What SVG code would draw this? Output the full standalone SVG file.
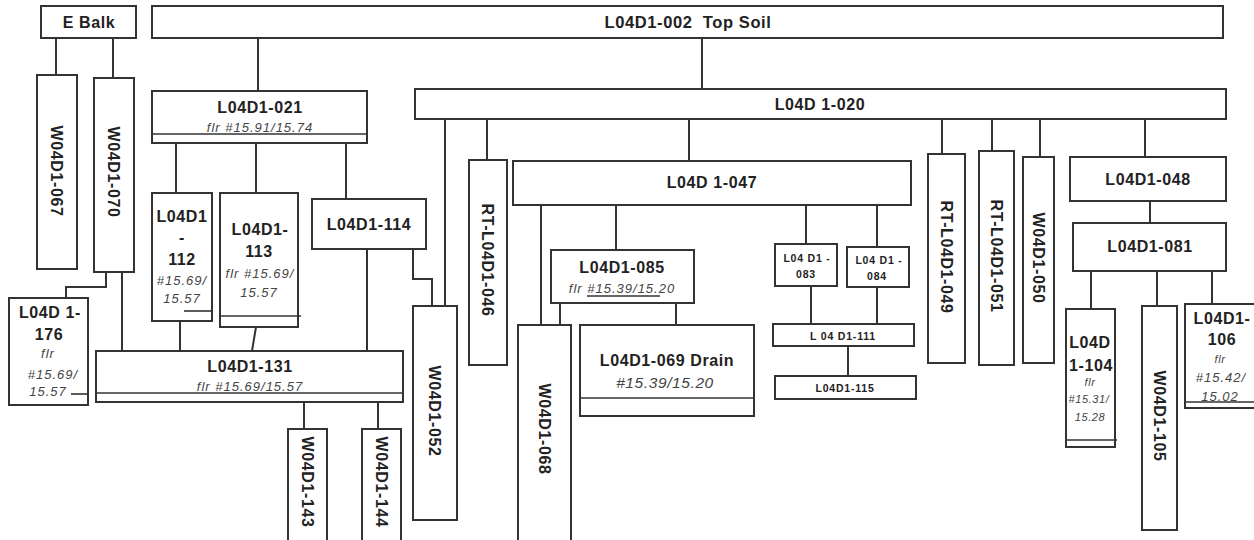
<svg xmlns="http://www.w3.org/2000/svg" width="1254" height="540" viewBox="0 0 1254 540">
<style>
.b{fill:#fff;stroke:#333;stroke-width:2}
.c{fill:none;stroke:#333;stroke-width:2}
.l{stroke:#333;stroke-width:1.6}
.t{font-family:"Liberation Sans",Arial,sans-serif;font-weight:bold;font-size:16px;fill:#222;text-anchor:middle;letter-spacing:0.6px}
.i{font-family:"Liberation Sans",Arial,sans-serif;font-style:italic;font-size:13px;fill:#444;text-anchor:middle;letter-spacing:1px}
.s{font-family:"Liberation Sans",Arial,sans-serif;font-weight:bold;font-size:10.5px;fill:#222;text-anchor:middle;letter-spacing:0.8px}
.si{font-family:"Liberation Sans",Arial,sans-serif;font-style:italic;font-size:11px;fill:#444;text-anchor:middle;letter-spacing:0.6px}
</style>
<g id="connectors" class="c">
<path d="M258,38V91M702,38V89M56,38V75M113,38V78"/>
<path d="M176,143V193M256,143V193M346,143V199"/>
<path d="M106,272V287H66V298M122,272V351M180,321V351M256,327L252,351M367,249V351"/>
<path d="M413,249V279H432V306M445,119V306M487,119V160M689,119V161"/>
<path d="M541,205V325M616,205V250M806,205V244M877,205V247M560,303V325M676,303V325"/>
<path d="M811,286V324M877,287V324M848,346V376"/>
<path d="M942,119V154M992,119V151M1040,119V157M1145,119V157M1150,201V223"/>
<path d="M1091,271V309M1157,271V306M1212,271V304M304,402V429M378,402V429"/>
</g>
<g id="n-ebalk"><rect class="b" x="41" y="6" width="95" height="32"/><text class="t" x="89" y="28">E Balk</text></g>
<g id="n-002"><rect class="b" x="152" y="6" width="1071" height="32"/><text class="t" x="688" y="28" style="font-size:16.5px" xml:space="preserve">L04D1-002  Top Soil</text></g>
<g id="n-021"><rect class="b" x="152" y="91" width="215" height="52"/><line class="l" x1="152" y1="134" x2="367" y2="134"/><text class="t" x="260" y="113">L04D1-021</text><text class="i" x="260" y="132">flr #15.91/15.74</text></g>
<g id="n-020"><rect class="b" x="415" y="89" width="811" height="30"/><text class="t" x="820" y="110">L04D 1-020</text></g>
<g id="n-067"><rect class="b" x="37" y="75" width="40" height="194"/><text class="t" transform="translate(57,171) rotate(90)" dy="0.35em">W04D1-067</text></g>
<g id="n-070"><rect class="b" x="94" y="78" width="40" height="194"/><text class="t" transform="translate(114,172) rotate(90)" dy="0.35em">W04D1-070</text></g>
<g id="n-112"><rect class="b" x="152" y="193" width="60" height="128"/><line class="l" x1="184" y1="311" x2="212" y2="311"/><text class="t" x="182" y="222">L04D1</text><text class="t" x="182" y="243">-</text><text class="t" x="182" y="265">112</text><text class="i" x="182" y="285">#15.69/</text><text class="i" x="182" y="303">15.57</text></g>
<g id="n-113"><rect class="b" x="220" y="193" width="78" height="134"/><line class="l" x1="220" y1="316" x2="301" y2="316"/><text class="t" x="260" y="235">L04D1-</text><text class="t" x="259" y="257">113</text><text class="i" x="260" y="278">flr #15.69/</text><text class="i" x="259" y="297">15.57</text></g>
<g id="n-114"><rect class="b" x="312" y="199" width="114" height="50"/><text class="t" x="369" y="230">L04D1-114</text></g>
<g id="n-176"><rect class="b" x="9" y="298" width="79" height="107"/><line class="l" x1="71" y1="394" x2="88" y2="394"/><text class="t" x="50" y="318">L04D 1-</text><text class="t" x="49" y="340">176</text><text class="i" x="48" y="358">flr</text><text class="i" x="53" y="379">#15.69/</text><text class="i" x="48" y="396">15.57</text></g>
<g id="n-131"><rect class="b" x="96" y="351" width="307" height="51"/><line class="l" x1="96" y1="393" x2="403" y2="393"/><text class="t" x="250" y="372">L04D1-131</text><text class="i" x="250" y="391">flr #15.69/15.57</text></g>
<g id="n-143"><rect class="b" x="288" y="429" width="39" height="113"/><text class="t" transform="translate(307.5,482) rotate(90)" dy="0.35em">W04D1-143</text></g>
<g id="n-144"><rect class="b" x="362" y="429" width="39" height="113"/><text class="t" transform="translate(381.5,482) rotate(90)" dy="0.35em">W04D1-144</text></g>
<g id="n-052"><rect class="b" x="413" y="306" width="44" height="214"/><text class="t" transform="translate(435,411) rotate(90)" dy="0.35em">W04D1-052</text></g>
<g id="n-046"><rect class="b" x="469" y="160" width="38" height="205"/><text class="t" transform="translate(488,260) rotate(90)" dy="0.35em">RT-L04D1-046</text></g>
<g id="n-047"><rect class="b" x="513" y="161" width="398" height="44"/><text class="t" x="712" y="188">L04D 1-047</text></g>
<g id="n-085"><rect class="b" x="551" y="250" width="143" height="53"/><line class="l" x1="587" y1="296" x2="660" y2="296"/><text class="t" x="622" y="273">L04D1-085</text><text class="i" x="622" y="293">flr #15.39/15.20</text></g>
<g id="n-068"><rect class="b" x="518" y="325" width="53" height="217"/><text class="t" transform="translate(544.5,429) rotate(90)" dy="0.35em">W04D1-068</text></g>
<g id="n-069"><rect class="b" x="580" y="325" width="174" height="91"/><line class="l" x1="580" y1="398" x2="754" y2="398"/><text class="t" x="667" y="366">L04D1-069 Drain</text><text class="i" x="665" y="388" style="font-size:15.5px;letter-spacing:0.6px">#15.39/15.20</text></g>
<g id="n-083"><rect class="b" x="775" y="244" width="62" height="42"/><text class="s" x="807" y="262">L04 D1 -</text><text class="s" x="806" y="278">083</text></g>
<g id="n-084"><rect class="b" x="847" y="247" width="62" height="40"/><text class="s" x="879" y="264">L04 D1 -</text><text class="s" x="877" y="280">084</text></g>
<g id="n-111"><rect class="b" x="773" y="324" width="141" height="22"/><text class="s" x="843" y="340">L 04 D1-111</text></g>
<g id="n-115"><rect class="b" x="775" y="376" width="141" height="23"/><text class="s" x="845" y="392">L04D1-115</text></g>
<g id="n-049"><rect class="b" x="928" y="154" width="37" height="209"/><text class="t" transform="translate(946.5,257) rotate(90)" dy="0.35em">RT-L04D1-049</text></g>
<g id="n-051"><rect class="b" x="979" y="151" width="35" height="214"/><text class="t" transform="translate(996.5,256) rotate(90)" dy="0.35em">RT-L04D1-051</text></g>
<g id="n-050"><rect class="b" x="1023" y="157" width="31" height="206"/><text class="t" transform="translate(1038.5,258) rotate(90)" dy="0.35em">W04D1-050</text></g>
<g id="n-048"><rect class="b" x="1070" y="157" width="156" height="44"/><text class="t" x="1148" y="185">L04D1-048</text></g>
<g id="n-081"><rect class="b" x="1073" y="223" width="153" height="48"/><text class="t" x="1150" y="252">L04D1-081</text></g>
<g id="n-104"><rect class="b" x="1066" y="309" width="49" height="138"/><line class="l" x1="1066" y1="440" x2="1117" y2="440"/><text class="t" x="1090" y="348">L04D</text><text class="t" x="1091" y="371">1-104</text><text class="si" x="1090" y="386">flr</text><text class="si" x="1089" y="403">#15.31/</text><text class="si" x="1090" y="421">15.28</text></g>
<g id="n-105"><rect class="b" x="1142" y="306" width="35" height="224"/><text class="t" transform="translate(1159.5,416) rotate(90)" dy="0.35em">W04D1-105</text></g>
<g id="n-106"><rect class="b" x="1185" y="304" width="72" height="104"/><line class="l" x1="1185" y1="402" x2="1254" y2="402"/><text class="t" x="1222" y="324">L04D1-</text><text class="t" x="1222" y="345">106</text><text class="si" x="1220" y="363">flr</text><text class="i" x="1221" y="382">#15.42/</text><text class="i" x="1220" y="401">15.02</text></g>
</svg>
